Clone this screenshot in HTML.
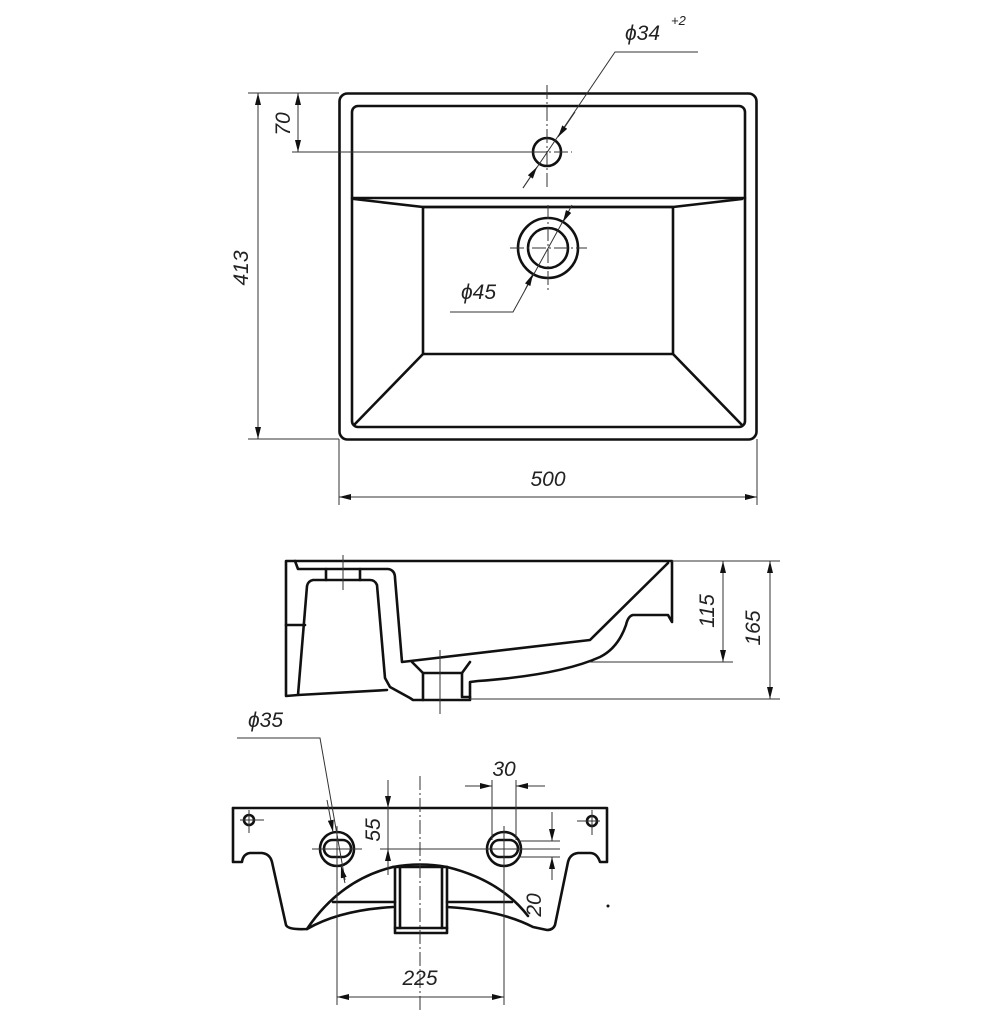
<!DOCTYPE html>
<html><head><meta charset="utf-8"><style>
html,body{margin:0;padding:0;background:#fff}
svg{display:block}
text{font-family:"Liberation Sans",sans-serif;font-style:italic;fill:#222;font-size:21px}
.k{stroke:#111;stroke-width:2.6;fill:none;stroke-linejoin:round;stroke-linecap:round}
.t{stroke:#333;stroke-width:1;fill:none}
.c{stroke:#333;stroke-width:1;fill:none;stroke-dasharray:14 3 2 3}
</style></head><body>
<svg width="1000" height="1027" viewBox="0 0 1000 1027" xmlns="http://www.w3.org/2000/svg">
<defs>
<marker id="a" viewBox="0 0 12 6" refX="12" refY="3" markerWidth="12" markerHeight="6" orient="auto-start-reverse" markerUnits="userSpaceOnUse"><path d="M0,0 L12,3 L0,6 z" fill="#111"/></marker>
</defs>

<!-- TOP VIEW -->
<rect class="k" x="339.5" y="93.5" width="417" height="346" rx="8"/>
<rect class="k" x="352" y="106" width="393" height="321" rx="6"/>
<line class="k" x1="352" y1="198" x2="745" y2="198"/>
<polyline class="k" points="354,199 423,207 673,207 742,199"/>
<rect class="k" x="423" y="207" width="250" height="147"/>
<line class="k" x1="354" y1="425" x2="423" y2="354"/>
<line class="k" x1="742" y1="425" x2="673" y2="354"/>
<circle class="k" cx="547" cy="152" r="14"/>
<circle class="k" cx="548" cy="248" r="30"/>
<circle class="k" cx="548" cy="248" r="20"/>
<line class="c" x1="547" y1="85" x2="547" y2="190"/>
<line class="c" x1="510" y1="152" x2="572" y2="152"/>
<line class="c" x1="548" y1="205" x2="548" y2="290"/>
<line class="c" x1="510" y1="248" x2="587" y2="248"/>
<!-- dims top -->
<line class="t" x1="248" y1="93" x2="339" y2="93"/>
<line class="t" x1="248" y1="439" x2="339" y2="439"/>
<line class="t" x1="258" y1="93" x2="258" y2="439" marker-start="url(#a)" marker-end="url(#a)"/>
<text transform="translate(248,268) rotate(-90)" text-anchor="middle">413</text>
<line class="t" x1="292" y1="152" x2="547" y2="152"/>
<line class="t" x1="298" y1="93" x2="298" y2="152" marker-start="url(#a)" marker-end="url(#a)"/>
<text transform="translate(290,124) rotate(-90)" text-anchor="middle">70</text>
<line class="t" x1="339" y1="439" x2="339" y2="505"/>
<line class="t" x1="757" y1="439" x2="757" y2="505"/>
<line class="t" x1="339" y1="497" x2="757" y2="497" marker-start="url(#a)" marker-end="url(#a)"/>
<text x="548" y="486" text-anchor="middle">500</text>
<polyline class="t" points="523,188 615,52 698,52"/>
<line class="t" x1="575" y1="112" x2="558" y2="137" marker-end="url(#a)"/>
<line class="t" x1="523" y1="188" x2="537" y2="167" marker-end="url(#a)"/>
<text x="625" y="40">ϕ34</text>
<text x="671" y="25" style="font-size:13px">+2</text>
<polyline class="t" points="450,312 513,312 568,212"/>
<line class="t" x1="525" y1="290" x2="533" y2="274" marker-end="url(#a)"/>
<line class="t" x1="572" y1="205" x2="563" y2="222" marker-end="url(#a)"/>
<text x="461" y="299">ϕ45</text>

<!-- SIDE VIEW -->
<path class="k" d="M286,561 L672,561 L672,622 L668,615 L633,615 Q628,616 626,625 Q618,648 600,657 Q560,675 478,681 L470,682 L470,700 L413,700 L410,698 L390,687 L385,678 L377,585 Q375,580 370,580 L313,580 Q308,581 307,586 L298,695 L387,690 M298,695 L286,696 L286,561"/>
<path class="k" d="M295,561 L298,569 L388,569 Q395,570 395,578 L402,662 L590,640 L668,563"/>
<line class="k" x1="326" y1="569" x2="326" y2="580"/>
<line class="k" x1="360" y1="569" x2="360" y2="580"/>
<line class="k" x1="286" y1="625" x2="305" y2="625"/>
<polyline class="k" points="412,662 423,673 423,700"/>
<polyline class="k" points="470,662 462,673 462,697 470,697"/>
<line class="k" x1="423" y1="673" x2="462" y2="673"/>
<line class="t" x1="343" y1="555" x2="343" y2="590"/>
<line class="t" x1="440" y1="650" x2="440" y2="714"/>
<line class="t" x1="672" y1="561" x2="780" y2="561"/>
<line class="t" x1="590" y1="662" x2="733" y2="662"/>
<line class="t" x1="470" y1="699" x2="780" y2="699"/>
<line class="t" x1="723" y1="561" x2="723" y2="662" marker-start="url(#a)" marker-end="url(#a)"/>
<line class="t" x1="770" y1="561" x2="770" y2="699" marker-start="url(#a)" marker-end="url(#a)"/>
<text transform="translate(714,611) rotate(-90)" text-anchor="middle">115</text>
<text transform="translate(760,628) rotate(-90)" text-anchor="middle">165</text>

<!-- BOTTOM VIEW -->
<path class="k" d="M233,808 L607,808 L607,862 L600,862 Q597,853 590,853 L578,853 Q570,854 568,862 L555,925 Q553,930 547,930 L533,927 Q500,910 447,907"/>
<path class="k" d="M393,907 Q340,910 307,929 Q288,930 286,925 L272,862 Q270,854 262,853 L250,853 Q243,854 242,862 L233,862 L233,808"/>
<path class="k" d="M307,929 Q340,880 393,867 M447,867 Q500,880 528,916"/>
<path class="k" d="M393,867 Q420,862 447,867"/>
<rect class="k" x="395" y="867" width="52" height="66"/>
<line class="k" x1="400" y1="867" x2="400" y2="928"/>
<line class="k" x1="442" y1="867" x2="442" y2="928"/>
<line class="k" x1="395" y1="928" x2="447" y2="928"/>
<line class="k" x1="333" y1="902" x2="395" y2="902"/>
<line class="k" x1="447" y1="902" x2="512" y2="902"/>
<circle class="k" cx="337" cy="849" r="17"/>
<rect class="k" x="324" y="840" width="27" height="17" rx="8.5"/>
<circle class="k" cx="504" cy="849" r="17"/>
<rect class="k" x="491" y="840" width="27" height="17" rx="8.5"/>
<circle class="k" cx="249" cy="820" r="5"/>
<circle class="k" cx="592" cy="821" r="5"/>
<line class="t" x1="240" y1="820" x2="264" y2="820"/>
<line class="t" x1="249" y1="810" x2="249" y2="833"/>
<line class="t" x1="577" y1="821" x2="600" y2="821"/>
<line class="t" x1="592" y1="810" x2="592" y2="835"/>
<line class="c" x1="420" y1="776" x2="420" y2="1012"/>
<line class="t" x1="312" y1="849" x2="362" y2="849"/>
<line class="t" x1="380" y1="849" x2="560" y2="849"/>
<line class="t" x1="518" y1="841" x2="560" y2="841"/>
<line class="t" x1="518" y1="857" x2="560" y2="857"/>
<line class="t" x1="337" y1="826" x2="337" y2="1005"/>
<line class="t" x1="504" y1="826" x2="504" y2="1005"/>
<line class="t" x1="337" y1="997" x2="504" y2="997" marker-start="url(#a)" marker-end="url(#a)"/>
<text x="420" y="985" text-anchor="middle">225</text>
<line class="t" x1="492" y1="780" x2="492" y2="840"/>
<line class="t" x1="516" y1="780" x2="516" y2="840"/>
<line class="t" x1="465" y1="786" x2="492" y2="786" marker-end="url(#a)"/>
<line class="t" x1="545" y1="786" x2="516" y2="786" marker-end="url(#a)"/>
<text x="504" y="776" text-anchor="middle">30</text>
<line class="t" x1="388" y1="780" x2="388" y2="808" marker-end="url(#a)"/>
<line class="t" x1="388" y1="875" x2="388" y2="849" marker-end="url(#a)"/>
<line class="t" x1="388" y1="808" x2="388" y2="849"/>
<text transform="translate(380,830) rotate(-90)" text-anchor="middle">55</text>
<line class="t" x1="552" y1="812" x2="552" y2="841" marker-end="url(#a)"/>
<line class="t" x1="552" y1="880" x2="552" y2="857" marker-end="url(#a)"/>
<text transform="translate(541,905) rotate(-90)" text-anchor="middle">20</text>
<polyline class="t" points="237,738 320,738 345,880"/>
<line class="t" x1="327" y1="800" x2="333" y2="832" marker-end="url(#a)"/>
<line class="t" x1="345" y1="883" x2="341" y2="866" marker-end="url(#a)"/>
<text x="248" y="727">ϕ35</text>
<circle cx="608" cy="906" r="1.5" fill="#111"/>
</svg>
</body></html>
